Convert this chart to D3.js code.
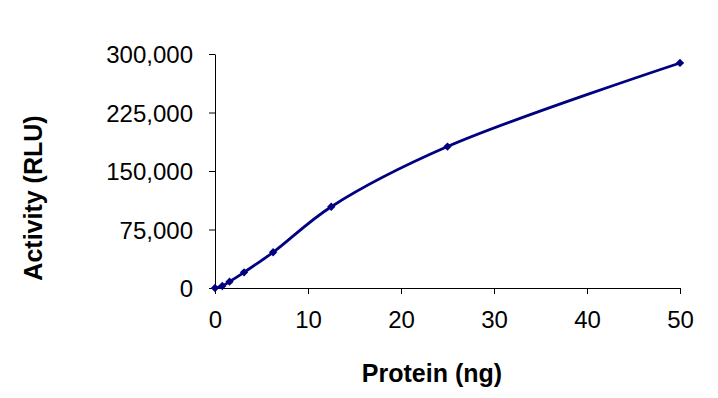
<!DOCTYPE html>
<html>
<head>
<meta charset="utf-8">
<script src="https://cdn.jsdelivr.net/npm/d3@7"></script>
<style>
  html, body { margin: 0; padding: 0; background: #fff; }
  svg { display: block; font-family: Arial, "Liberation Sans", sans-serif; }
</style>
</head>
<body>
<div id="chart"></div>
<script>
// data
const proteinNg = [0, 0.78, 1.56, 3.125, 6.25, 12.5, 25, 50];
const activityRLU = [0, 2600, 8100, 20100, 45800, 104200, 181300, 288500];
const xTicks = [0, 10, 20, 30, 40, 50];
const yTicks = [0, 75000, 150000, 225000, 300000];

const width = 718, height = 398;
const margin = { left: 215, right: 38, top: 54, bottom: 110 };
const innerWidth = width - margin.left - margin.right;
const innerHeight = height - margin.top - margin.bottom;

const svg = d3.select("#chart").append("svg")
    .attr("width", width)
    .attr("height", height);

const chart = svg.append("g")
    .attr("transform", `translate(${margin.left}, ${margin.top})`);

const xScale = d3.scaleLinear().domain([0, 50]).range([0, innerWidth]);
const yScale = d3.scaleLinear().domain([0, 300000]).range([innerHeight, 0]);

// axes
const xAxis = chart.append("g")
    .attr("transform", `translate(0, ${innerHeight})`)
    .call(d3.axisBottom(xScale).tickValues(xTicks).tickSize(6).tickPadding(17).tickSizeOuter(0));

const yAxis = chart.append("g")
    .call(d3.axisLeft(yScale).tickValues(yTicks).tickSize(6).tickPadding(16).tickSizeOuter(0)
        .tickFormat(d3.format(",")));

[xAxis, yAxis].forEach(a => {
    a.attr("font-size", 24).attr("font-family", "Arial, 'Liberation Sans', sans-serif");
    a.select(".domain").attr("stroke", "#000").attr("stroke-width", 1);
    a.selectAll(".tick line").attr("stroke", "#000");
    a.selectAll(".tick text").attr("fill", "#000");
});
yAxis.selectAll(".tick text").attr("dy", "0.36em");

// line
const line = d3.line()
    .x((d, i) => xScale(proteinNg[i]))
    .y(d => yScale(d))
    .curve(d3.curveCatmullRom.alpha(0.5));

chart.append("path")
    .datum(activityRLU)
    .attr("fill", "none")
    .attr("stroke", "#000080")
    .attr("stroke-width", 2.8)
    .attr("d", line);

// markers
chart.selectAll("path.marker")
    .data(activityRLU)
    .enter()
    .append("path")
    .attr("class", "marker")
    .attr("transform", (d, i) => `translate(${xScale(proteinNg[i])}, ${yScale(d)})`)
    .attr("d", d3.symbol(d3.symbolDiamond2, 44))
    .attr("fill", "#000080");

// axis titles
svg.append("text")
    .attr("x", 432)
    .attr("y", 382)
    .attr("text-anchor", "middle")
    .style("font-size", "25px")
    .style("font-weight", "bold")
    .text("Protein (ng)");

svg.append("text")
    .attr("transform", "translate(42, 198) rotate(-90)")
    .attr("text-anchor", "middle")
    .style("font-size", "25px")
    .style("font-weight", "bold")
    .text("Activity (RLU)");
</script>
</body>
</html>
